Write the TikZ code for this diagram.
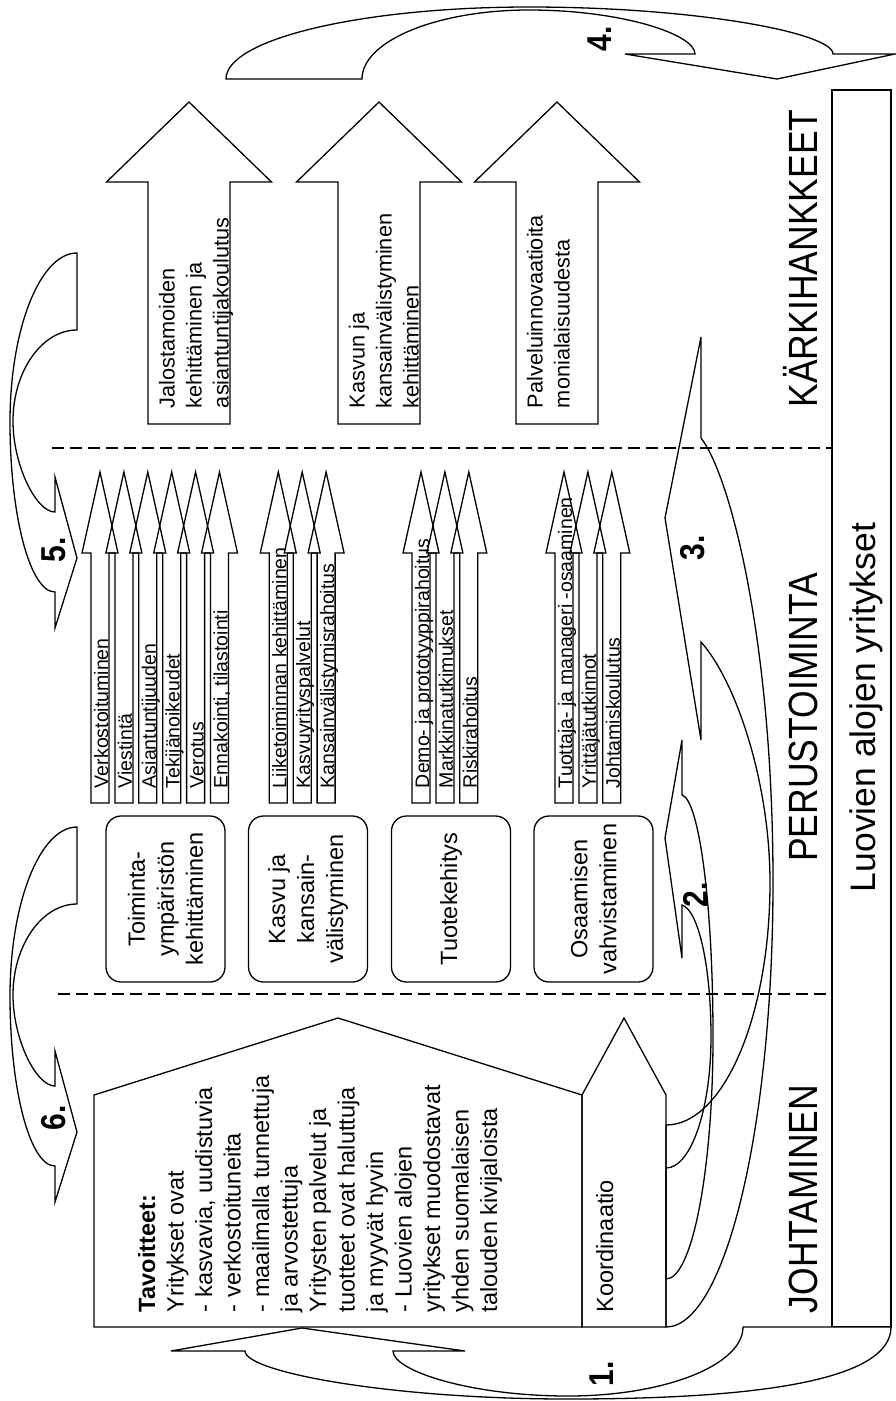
\documentclass[tikz,border=0pt]{standalone}
\usepackage{fontspec}
\setmainfont{Liberation Sans}
\newcommand\fMain{\fontsize{23.5}{28.5}\selectfont}
\newcommand\fBox{\fontsize{23.5}{29}\selectfont}
\newcommand\fSmall{\fontsize{19.5}{23}\selectfont}
\newcommand\fArr{\fontsize{21.7}{27}\selectfont}
\newcommand\fSec{\fontsize{35.5}{40}\selectfont}
\newcommand\fNum{\fontsize{30}{34}\selectfont\bfseries}
\newcommand\smallArrow[3]{%
  \draw[ln] ({#2-9},803) -- ({#2-9},553) -- ({#2-18},553) -- (#2,472) -- ({#2+18},553) -- ({#2+9},553) -- ({#2+9},803) -- cycle;
  \node (#1) [rt,anchor=base west,font=\fSmall] at ({#2+8},788) {#3};}
\newcommand\bigArrow[3]{%
  \draw[ln] ({#2-41},424) -- ({#2-41},182) -- ({#2-82.5},182) -- (#2,102) -- ({#2+82.5},182) -- ({#2+41},182) -- ({#2+41},424) -- cycle;
  \node (#1) [rt,anchor=north west,align=left,font=\fArr] at ({#2-30},408) {#3};}
\begin{document}
\begin{tikzpicture}[x=1pt,y=-1pt,
  ln/.style={draw=black,line width=1.3pt,line join=miter},
  rt/.style={rotate=90,inner sep=0pt,outer sep=0pt},
  dline/.style={line width=2pt,dash pattern=on 12pt off 6pt},
  rbox/.style={draw=black,line width=1.3pt,rounded corners=15pt,rotate=90,minimum width=166pt,minimum height=119pt,align=center,font=\fBox,inner sep=2pt}]
\useasboundingbox (0,0) rectangle (895,1401);

% bottom bar
\node (bar) [draw,line width=1.3pt,rotate=90,minimum width=1237pt,minimum height=59pt,inner sep=0pt] at (861.5,708.5) {};
\node (barlabel) [rt,anchor=base,font=\fSec] at (875,707.5) {Luovien alojen yritykset};

% dashed separators
\coordinate (d1a) at (52,448); \coordinate (d1b) at (832,448);
\coordinate (d2a) at (58,994); \coordinate (d2b) at (832,994);
\draw[dline] (d1a) -- (d1b);
\draw[dline] (d2a) -- (d2b);

% section labels
\node (kark) [rt,anchor=base,font=\fSec,yscale=1.15] at (817,258.5) {KÄRKIHANKKEET};
\node (perus) [rt,anchor=base,font=\fSec,yscale=1.15] at (817,717.5) {PERUSTOIMINTA};
\node (joht) [rt,anchor=base,font=\fSec,yscale=1.15] at (817,1199) {JOHTAMINEN};

% big arrows
\bigArrow{ka1}{189}{Jalostamoiden\\kehittäminen ja\\asiantuntijakoulutus}
\bigArrow{ka2}{379}{Kasvun ja\\kansainvälistyminen\\kehittäminen}
\bigArrow{ka3}{557}{Palveluinnovaatioita\\monialaisuudesta}

% small arrows
\smallArrow{s11}{100}{Verkostoituminen}
\smallArrow{s12}{123.9}{Viestintä}
\smallArrow{s13}{147.8}{Asiantuntijuuden}
\smallArrow{s14}{171.7}{Tekijänoikeudet}
\smallArrow{s15}{195.6}{Verotus}
\smallArrow{s16}{219.5}{Ennakointi, tilastointi}
\smallArrow{s21}{278.3}{Liiketoiminnan kehittäminen}
\smallArrow{s22}{302.2}{Kasvuyrityspalvelut}
\smallArrow{s23}{326.1}{Kansainvälistymisrahoitus}
\smallArrow{s31}{421}{Demo- ja prototyyppirahoitus}
\smallArrow{s32}{444.9}{Markkinatutkimukset}
\smallArrow{s33}{468.8}{Riskirahoitus}
\smallArrow{s41}{564}{Tuottaja- ja manageri -osaaminen}
\smallArrow{s42}{587.9}{Yrittäjätutkinnot}
\smallArrow{s43}{611.8}{Johtamiskoulutus}

% rounded boxes
\node (b1) [rbox] at (165.5,899) {Toiminta-\\ympäristön\\kehittäminen};
\node (b2) [rbox] at (308,899) {Kasvu ja\\kansain-\\välistyminen};
\node (b3) [rbox] at (451,899) {Tuotekehitys};
\node (b4) [rbox] at (593.5,899) {Osaamisen\\vahvistaminen};

% house shapes
\draw[ln] (94,1327) -- (94,1095) -- (338,1018) -- (582,1095) -- (582,1327) -- cycle;
\draw[ln] (582,1327) -- (582,1095) -- (624,1018) -- (666,1095) -- (666,1327) -- cycle;
\node (tav) [rt,anchor=north west,align=left,font=\fMain] at (138,1312) {\textbf{Tavoitteet:}\\Yritykset ovat\\- kasvavia, uudistuvia\\- verkostoituneita\\- maailmalla tunnettuja\\ja arvostettuja\\Yritysten palvelut ja\\tuotteet ovat haluttuja\\ja myyvät hyvin\\- Luovien alojen\\yritykset muodostavat\\yhden suomalaisen\\talouden kivijaloista};
\node (koord) [rt,anchor=base west,font=\fMain] at (613,1312) {Koordinaatio};

% curved arrow 4 (top)
\draw[ln,fill=white] (226,79) -- (362,79)
  .. controls (362,41) and (437,10) .. (529,10)
  .. controls (621,10) and (695,34) .. (695,54)
  -- (625,54) -- (777,79) -- (895,54) -- (833,54)
  .. controls (833,33) and (697,7) .. (529,7)
  .. controls (362,7) and (226,39) .. (226,79) -- cycle;

% curved arrow 5 (left upper)
\draw[ln,fill=white] (77,330) -- (77,253)
  .. controls (40,253) and (10,329) .. (10,422)
  .. controls (10,516) and (30,592) .. (55,592)
  -- (55,628) -- (77,558) -- (55,477) -- (55,512)
  .. controls (36,512) and (13,465) .. (13,421)
  .. controls (13,371) and (42,330) .. (77,330) -- cycle;

% curved arrow 6 (left lower)
\begin{scope}[shift={(0,574)}]
\draw[ln,fill=white] (77,330) -- (77,253)
  .. controls (40,253) and (10,329) .. (10,422)
  .. controls (10,516) and (30,592) .. (55,592)
  -- (55,628) -- (77,558) -- (55,477) -- (55,512)
  .. controls (36,512) and (13,465) .. (13,421)
  .. controls (13,371) and (42,330) .. (77,330) -- cycle;
\end{scope}

% curved arrow 2
\draw[ln] (682,905) -- (682,958) -- (665,838) -- (682,740) -- (682,795)
  .. controls (699,800) and (713,903) .. (713,1037)
  .. controls (713,1171) and (692,1279) .. (666,1279)
  -- (666,1168)
  .. controls (691,1168) and (711,1109) .. (711,1037)
  .. controls (711,964) and (698,910) .. (682,905) -- cycle;

% curved arrow 3
\draw[ln] (701,642) -- (701,740) -- (665,518) -- (701,337) -- (701,438)
  .. controls (730,475) and (773,640) .. (773,882)
  .. controls (773,1128) and (725,1327) .. (666,1327)
  -- (666,1125)
  .. controls (723,1125) and (770,1017) .. (770,883)
  .. controls (770,780) and (735,680) .. (701,642) -- cycle;

% label 1 (partly under arrow 1)
\node (n1) [rt,anchor=base,font=\fNum,yscale=1.15] at (613,1374) {1.};
% curved arrow 1 (bottom)
\draw[ln,fill=white] (743,1327) -- (891,1327)
  .. controls (891,1380) and (760,1399) .. (568,1399)
  .. controls (390,1399) and (245,1372) .. (245,1351)
  -- (171,1351) -- (302,1328) -- (465,1351) -- (393,1351)
  .. controls (393,1371) and (471,1396) .. (568,1396)
  .. controls (665,1396) and (743,1365) .. (743,1327) -- cycle;

% number labels
\node (n2) [rt,anchor=base,font=\fNum,yscale=1.15] at (707,895) {2.};
\node (n3) [rt,anchor=base,font=\fNum,yscale=1.15] at (704,548) {3.};
\node (n4) [rt,anchor=base,font=\fNum,yscale=1.15] at (611,39) {4.};
\node (n5) [rt,anchor=base,font=\fNum,yscale=1.15] at (65,550) {5.};
\node (n6) [rt,anchor=base,font=\fNum,yscale=1.15] at (65,1118) {6.};
\end{tikzpicture}
\end{document}
